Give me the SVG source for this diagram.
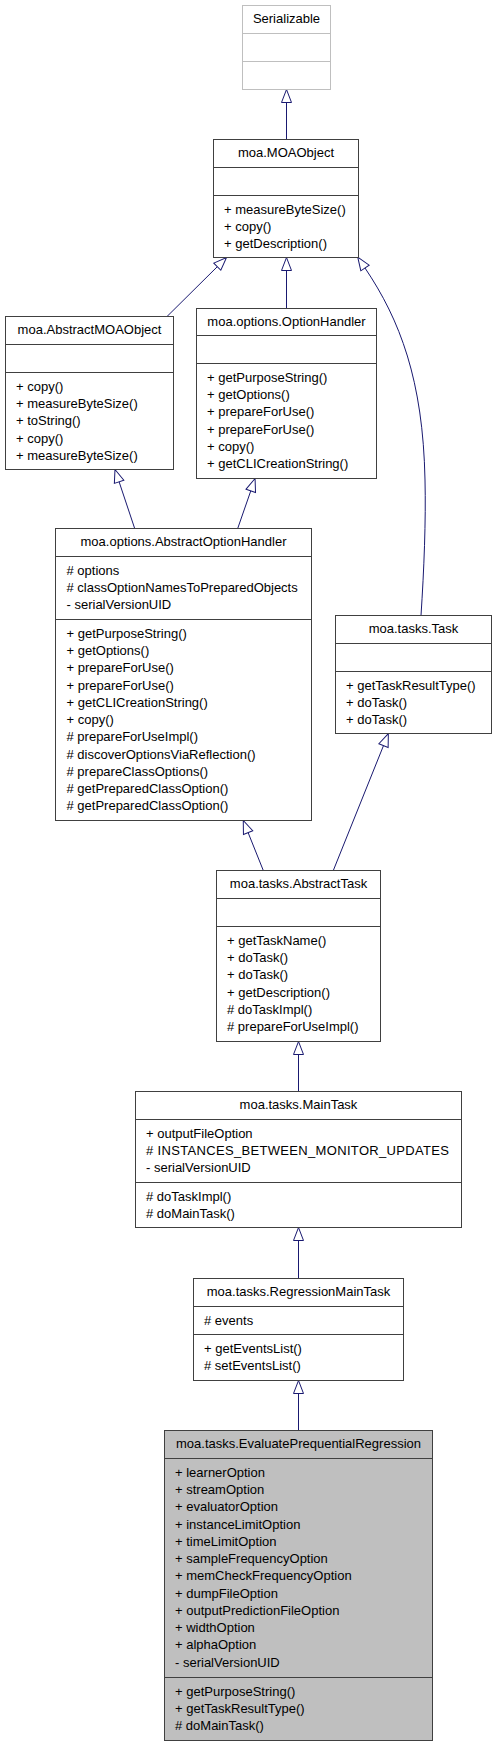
<svg xmlns="http://www.w3.org/2000/svg" width="496" height="1747" viewBox="0 0 496 1747">
<style>
  .box { fill: #ffffff; stroke: #404040; stroke-width: 1; }
  .boxu { fill: #ffffff; stroke: #bfbfbf; stroke-width: 1; }
  .boxm { fill: #bfbfbf; stroke: #404040; stroke-width: 1; }
  .div { stroke: #404040; stroke-width: 1; }
  .divu { stroke: #bfbfbf; stroke-width: 1; }
  text { font-family: "Liberation Sans", Arial, sans-serif; font-size: 13px; fill: #000000; }
  .t { text-anchor: middle; }
  .edge { fill: none; stroke: #191970; stroke-width: 1; marker-end: url(#arr); }
</style>
<defs>
  <marker id="arr" markerUnits="userSpaceOnUse" markerWidth="16" markerHeight="14" viewBox="-1 -7 16 14" refX="0" refY="0" orient="auto" overflow="visible">
    <path d="M0,-5 L13,0 L0,5 Z" fill="#ffffff" stroke="#191970" stroke-width="1"/>
  </marker>
</defs>
<rect width="496" height="1747" fill="#ffffff"/>

<g id="connectors">
  <path class="edge" d="M286.5,139.5 L286.5,102.5"/>
  <path class="edge" d="M167,316.5 L217.3,266.7"/>
  <path class="edge" d="M286.5,308.5 L286.5,270.5"/>
  <path class="edge" d="M421,615.5 C424,570 426,520 425,480 C423,380 400,320 365,268"/>
  <path class="edge" d="M134.7,528.5 L119.1,481.8"/>
  <path class="edge" d="M237.7,528.5 L250.8,490.8"/>
  <path class="edge" d="M263.3,870.5 L248.1,832.6"/>
  <path class="edge" d="M333.3,870.5 L383.5,745.6"/>
  <path class="edge" d="M298.5,1091.5 L298.5,1054.5"/>
  <path class="edge" d="M298.5,1278.5 L298.5,1240.5"/>
  <path class="edge" d="M298.5,1430.5 L298.5,1393.5"/>
</g>

<g id="Serializable">
  <rect class="boxu" x="242.5" y="5.5" width="88" height="84"/>
  <line class="divu" x1="242.5" y1="33.5" x2="330.5" y2="33.5"/>
  <line class="divu" x1="242.5" y1="61.5" x2="330.5" y2="61.5"/>
  <text class="t" x="286.5" y="23">Serializable</text>
</g>

<g id="MOAObject">
  <rect class="box" x="213.5" y="139.5" width="145" height="118"/>
  <line class="div" x1="213.5" y1="167.5" x2="358.5" y2="167.5"/>
  <line class="div" x1="213.5" y1="195.5" x2="358.5" y2="195.5"/>
  <text class="t" x="286" y="157">moa.MOAObject</text>
  <text x="224" y="213.7">+ measureByteSize()</text>
  <text x="224" y="231">+ copy()</text>
  <text x="224" y="248.2">+ getDescription()</text>
</g>

<g id="AbstractMOAObject">
  <rect class="box" x="5.5" y="316.5" width="168" height="153"/>
  <line class="div" x1="5.5" y1="344.5" x2="173.5" y2="344.5"/>
  <line class="div" x1="5.5" y1="372.5" x2="173.5" y2="372.5"/>
  <text class="t" x="89.5" y="334">moa.AbstractMOAObject</text>
  <text x="16" y="390.7">+ copy()</text>
  <text x="16" y="408">+ measureByteSize()</text>
  <text x="16" y="425.2">+ toString()</text>
  <text x="16" y="442.5">+ copy()</text>
  <text x="16" y="459.7">+ measureByteSize()</text>
</g>

<g id="OptionHandler">
  <rect class="box" x="196.5" y="308.5" width="180" height="170"/>
  <line class="div" x1="196.5" y1="335.5" x2="376.5" y2="335.5"/>
  <line class="div" x1="196.5" y1="363.5" x2="376.5" y2="363.5"/>
  <text class="t" x="286.5" y="325.5">moa.options.OptionHandler</text>
  <text x="207" y="381.7">+ getPurposeString()</text>
  <text x="207" y="399">+ getOptions()</text>
  <text x="207" y="416.2">+ prepareForUse()</text>
  <text x="207" y="433.5">+ prepareForUse()</text>
  <text x="207" y="450.7">+ copy()</text>
  <text x="207" y="468">+ getCLICreationString()</text>
</g>

<g id="AbstractOptionHandler">
  <rect class="box" x="55.5" y="528.5" width="256" height="292"/>
  <line class="div" x1="55.5" y1="556.5" x2="311.5" y2="556.5"/>
  <line class="div" x1="55.5" y1="619.5" x2="311.5" y2="619.5"/>
  <text class="t" x="183.5" y="546">moa.options.AbstractOptionHandler</text>
  <text x="66.5" y="574.7"># options</text>
  <text x="66.5" y="592"># classOptionNamesToPreparedObjects</text>
  <text x="66.5" y="609.2">- serialVersionUID</text>
  <text x="66.5" y="637.7">+ getPurposeString()</text>
  <text x="66.5" y="655">+ getOptions()</text>
  <text x="66.5" y="672.2">+ prepareForUse()</text>
  <text x="66.5" y="689.5">+ prepareForUse()</text>
  <text x="66.5" y="706.7">+ getCLICreationString()</text>
  <text x="66.5" y="724">+ copy()</text>
  <text x="66.5" y="741.3"># prepareForUseImpl()</text>
  <text x="66.5" y="758.5"># discoverOptionsViaReflection()</text>
  <text x="66.5" y="775.8"># prepareClassOptions()</text>
  <text x="66.5" y="793"># getPreparedClassOption()</text>
  <text x="66.5" y="810.3"># getPreparedClassOption()</text>
</g>

<g id="Task">
  <rect class="box" x="335.5" y="615.5" width="156" height="118"/>
  <line class="div" x1="335.5" y1="643.5" x2="491.5" y2="643.5"/>
  <line class="div" x1="335.5" y1="671.5" x2="491.5" y2="671.5"/>
  <text class="t" x="413.5" y="633">moa.tasks.Task</text>
  <text x="346" y="689.7">+ getTaskResultType()</text>
  <text x="346" y="707">+ doTask()</text>
  <text x="346" y="724.2">+ doTask()</text>
</g>

<g id="AbstractTask">
  <rect class="box" x="216.5" y="870.5" width="164" height="171"/>
  <line class="div" x1="216.5" y1="898.5" x2="380.5" y2="898.5"/>
  <line class="div" x1="216.5" y1="926.5" x2="380.5" y2="926.5"/>
  <text class="t" x="298.5" y="888">moa.tasks.AbstractTask</text>
  <text x="227" y="944.7">+ getTaskName()</text>
  <text x="227" y="962">+ doTask()</text>
  <text x="227" y="979.2">+ doTask()</text>
  <text x="227" y="996.5">+ getDescription()</text>
  <text x="227" y="1013.7"># doTaskImpl()</text>
  <text x="227" y="1031"># prepareForUseImpl()</text>
</g>

<g id="MainTask">
  <rect class="box" x="135.5" y="1091.5" width="326" height="136"/>
  <line class="div" x1="135.5" y1="1119.5" x2="461.5" y2="1119.5"/>
  <line class="div" x1="135.5" y1="1182.5" x2="461.5" y2="1182.5"/>
  <text class="t" x="298.5" y="1109">moa.tasks.MainTask</text>
  <text x="146" y="1137.7">+ outputFileOption</text>
  <text x="146" y="1155" textLength="303" lengthAdjust="spacing"># INSTANCES_BETWEEN_MONITOR_UPDATES</text>
  <text x="146" y="1172.2">- serialVersionUID</text>
  <text x="146" y="1200.7"># doTaskImpl()</text>
  <text x="146" y="1218"># doMainTask()</text>
</g>

<g id="RegressionMainTask">
  <rect class="box" x="193.5" y="1278.5" width="210" height="102"/>
  <line class="div" x1="193.5" y1="1306.5" x2="403.5" y2="1306.5"/>
  <line class="div" x1="193.5" y1="1334.5" x2="403.5" y2="1334.5"/>
  <text class="t" x="298.5" y="1296">moa.tasks.RegressionMainTask</text>
  <text x="204" y="1324.7"># events</text>
  <text x="204" y="1352.7">+ getEventsList()</text>
  <text x="204" y="1370"># setEventsList()</text>
</g>

<g id="EvaluatePrequentialRegression">
  <rect class="boxm" x="164.5" y="1430.5" width="268" height="310"/>
  <line class="div" x1="164.5" y1="1458.5" x2="432.5" y2="1458.5"/>
  <line class="div" x1="164.5" y1="1677.5" x2="432.5" y2="1677.5"/>
  <text class="t" x="298.5" y="1448">moa.tasks.EvaluatePrequentialRegression</text>
  <text x="175" y="1476.7">+ learnerOption</text>
  <text x="175" y="1494">+ streamOption</text>
  <text x="175" y="1511.2">+ evaluatorOption</text>
  <text x="175" y="1528.5">+ instanceLimitOption</text>
  <text x="175" y="1545.7">+ timeLimitOption</text>
  <text x="175" y="1563">+ sampleFrequencyOption</text>
  <text x="175" y="1580.3">+ memCheckFrequencyOption</text>
  <text x="175" y="1597.5">+ dumpFileOption</text>
  <text x="175" y="1614.8">+ outputPredictionFileOption</text>
  <text x="175" y="1632">+ widthOption</text>
  <text x="175" y="1649.3">+ alphaOption</text>
  <text x="175" y="1666.5">- serialVersionUID</text>
  <text x="175" y="1695.7">+ getPurposeString()</text>
  <text x="175" y="1713">+ getTaskResultType()</text>
  <text x="175" y="1730.2"># doMainTask()</text>
</g>
</svg>
